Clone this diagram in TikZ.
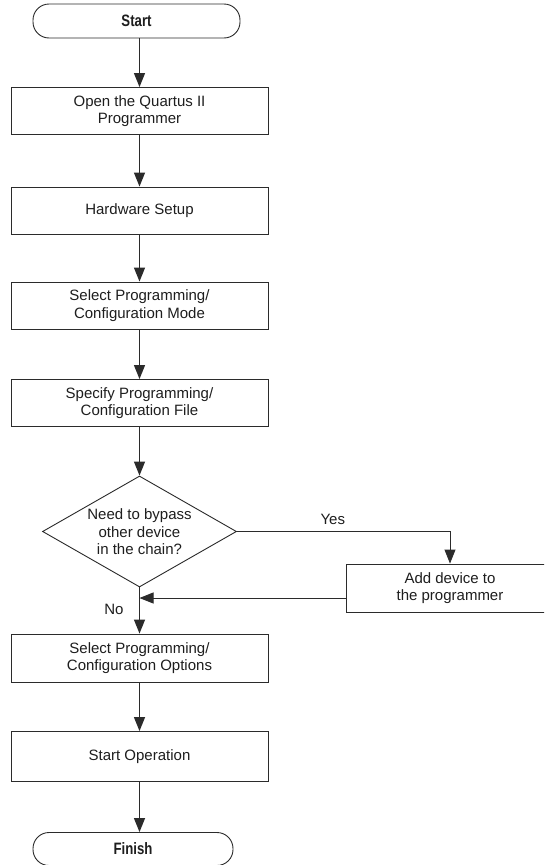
\documentclass[tikz,border=0pt]{standalone}
\usepackage{fontspec}
\setmainfont{Liberation Sans}
\newfontfamily\condbold[FakeStretch=0.8]{Liberation Sans Bold}
\usetikzlibrary{arrows.meta,shapes.geometric}
\definecolor{ink}{HTML}{2B2B2B}
\definecolor{txt}{HTML}{1E1E1E}
\tikzset{
  every node/.style={font=\fontsize{15pt}{17.5pt}\selectfont, text=txt},
  procbox/.style={draw=ink, line width=0.9pt, rectangle, minimum width=257pt,
    minimum height=47pt, align=center, inner sep=0pt},
  termbox/.style={draw=ink, line width=0.9pt, rectangle, rounded corners=16pt,
    minimum height=34pt, inner sep=0pt,
    font=\fontsize{16.5pt}{18pt}\condbold},
  decision/.style={draw=ink, line width=0.9pt, diamond, aspect=1.75,
    minimum width=194pt, minimum height=111pt, inner sep=0pt},
  flow/.style={draw=ink, line width=1.3pt, -{Triangle[length=14pt,width=11pt]}},
  plain/.style={draw=ink, line width=0.9pt},
}
\begin{document}
\begin{tikzpicture}[x=1pt, y=-1pt]
  \clip (0,0) rectangle (544,865);
  \fill[white] (0,0) rectangle (544,865);

  % terminators and process steps
  \node[termbox, minimum width=207pt] (start) at (136.5,21) {Start};
  \node[procbox] (open) at (139.5,111) {Open the Quartus II\\Programmer};
  \node[procbox] (hw) at (139.5,210.5) {Hardware Setup};
  \node[procbox] (mode) at (139.5,305.5) {Select Programming/\\Configuration Mode};
  \node[procbox] (file) at (139.5,403) {Specify Programming/\\Configuration File};
  \node[decision] (dec) at (139.5,531.5) {};
  \node[align=center] (dectext) at (139.5,532) {Need to bypass\\other device\\in the chain?};
  \node[procbox, minimum width=208pt, minimum height=48pt] (add) at (450,588) {Add device to\\the programmer};
  \node[procbox, minimum height=48pt] (opts) at (139.5,658) {Select Programming/\\Configuration Options};
  \node[procbox, minimum height=50pt] (run) at (139.5,756.5) {Start Operation};
  \node[termbox, minimum width=200pt, minimum height=33pt] (fin) at (133,849) {Finish};

  % main flow
  \draw[flow] (start.south -| open.north) -- (open.north);
  \draw[flow] (open) -- (hw);
  \draw[flow] (hw) -- (mode);
  \draw[flow] (mode) -- (file);
  \draw[flow] (file) -- (dec.north);
  \draw[flow] (dec.south) -- node[left=12pt, pos=0.47] (no) {No} (opts.north);
  \draw[flow] (opts) -- (run);
  \draw[flow] (run.south) -- (run.south |- fin.north);

  % bypass branch
  \draw[plain, -{Triangle[length=14pt,width=11pt]}] (dec.east) -| node[pos=0.225, above=3pt] (yes) {Yes} (add.north);
  \draw[plain, -{Triangle[length=14pt,width=11pt]}] ([yshift=-10pt]add.west) -- ([yshift=-10pt]add.west -| dec.south);
\end{tikzpicture}
\end{document}
